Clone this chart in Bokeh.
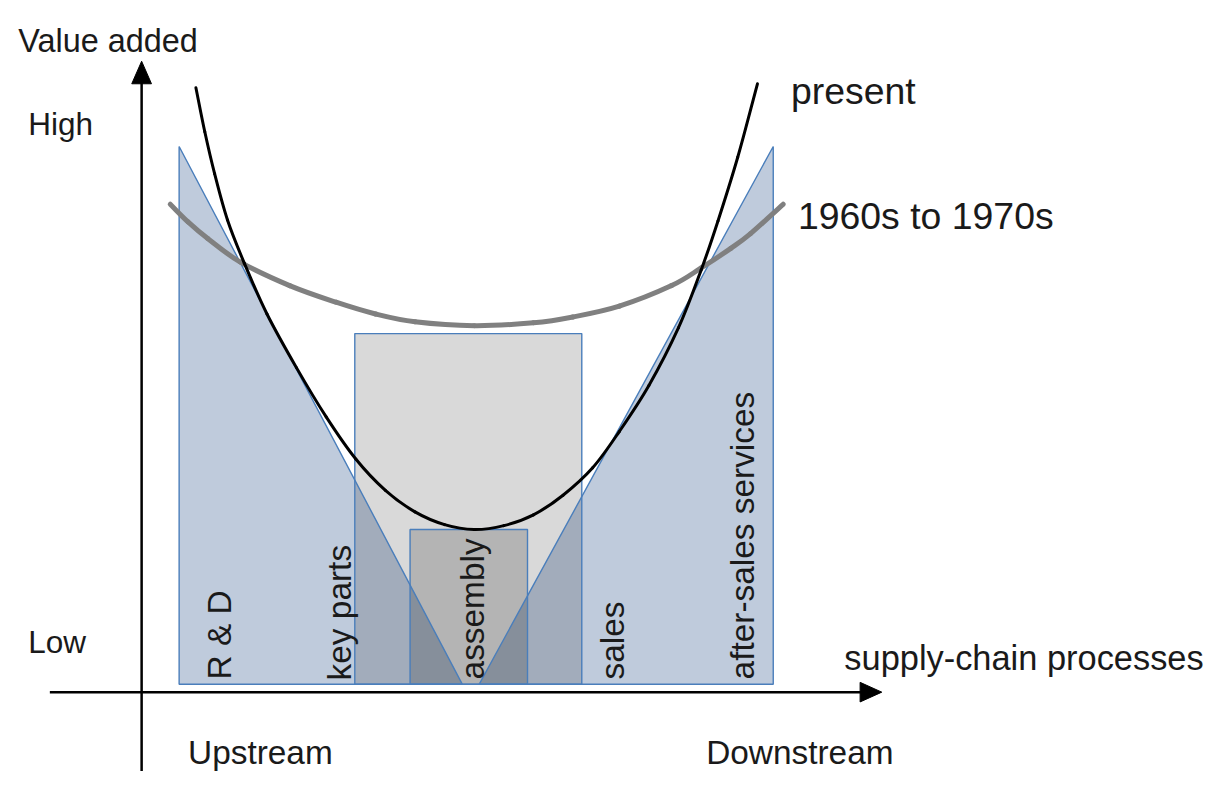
from bokeh.plotting import figure
from bokeh.models import Range1d
from bokeh.embed import file_html
from bokeh.resources import INLINE
from bokeh.core.properties import value
import numpy as np

W_REF, H_REF = 1222, 787   # reference frame (screen pixel units); y is flipped to "value" below
FIG_W, FIG_H = 1206, 771
FS = 0.983                 # font scale to fit the reference frame into the figure

# ---- data (screen pixel units) ----
present_x = [198, 207, 217, 230, 247, 270, 300, 330, 360, 390, 420, 450, 480,
             510, 540, 570, 600, 627, 657, 687, 710, 727, 747, 767]
present_y = [89, 134, 177, 224, 268, 320, 375, 425, 468, 500, 522, 535, 540,
             536, 525, 505, 477, 440, 393, 334, 275, 225, 160, 85]

sixties_x = [172, 190, 210, 243, 293, 340, 380, 420, 480, 540, 580, 627, 680, 710, 740, 760, 793]
sixties_y = [208, 226, 243, 267, 291, 308, 320, 328, 332, 329, 323, 312, 291, 273, 253, 238, 208]

rd_tri_x = [181, 181, 468]
rd_tri_y = [149, 698, 698]
after_tri_x = [783, 783, 485]
after_tri_y = [149, 698, 698]

# boxes: key parts..sales span, assembly span
box_left = [359, 415]
box_right = [589, 534]
box_top = [340, 540]
box_bottom = [698, 698]
box_shade = [0.15, 0.17]

stage_labels = ["R & D", "key parts", "assembly", "sales", "after-sales services"]
stage_x = [222, 343, 478, 620, 752]
stage_y = [693, 694, 693, 693, 693]

h_labels = ["Value added", "High", "Low", "present", "1960s to 1970s",
            "supply-chain processes", "Upstream", "Downstream"]
h_x = [18, 28, 28, 801, 808, 855, 190, 715]
h_y = [41, 126, 655, 92, 220, 671, 768, 768]
h_size = [33, 32, 32, 38, 38, 35, 34, 34]

yaxis_x = [143, 143]
yaxis_y = [787, 80]
yarrow_x = [143, 133, 153]
yarrow_y = [62, 85, 85]
xaxis_x = [50, 875]
xaxis_y = [706, 706]
xarrow_x = [893, 871, 871]
xarrow_y = [706, 696, 716]


def fy(v):
    return [H_REF - t for t in v]


def smooth_segments(xs, ys):
    """Catmull-Rom -> cubic Bezier segments through the read points."""
    x = np.array(xs, float)
    y = np.array(ys, float)
    px = np.concatenate([[2 * x[0] - x[1]], x, [2 * x[-1] - x[-2]]])
    py = np.concatenate([[2 * y[0] - y[1]], y, [2 * y[-1] - y[-2]]])
    n = len(x) - 1
    x0, y0 = px[1:n + 1], py[1:n + 1]
    x1, y1 = px[2:n + 2], py[2:n + 2]
    cx0 = x0 + (px[2:n + 2] - px[0:n]) / 6
    cy0 = y0 + (py[2:n + 2] - py[0:n]) / 6
    cx1 = x1 - (px[3:n + 3] - px[1:n + 1]) / 6
    cy1 = y1 - (py[3:n + 3] - py[1:n + 1]) / 6
    return dict(x0=x0, y0=y0, x1=x1, y1=y1, cx0=cx0, cy0=cy0, cx1=cx1, cy1=cy1)


p = figure(width=FIG_W, height=FIG_H, x_range=Range1d(0, W_REF), y_range=Range1d(0, H_REF),
           output_backend="svg", toolbar_location=None, min_border=0)
p.axis.visible = False
p.grid.visible = False
p.outline_line_color = None
p.background_fill_color = "white"

BLUE_FILL = "#bfcbdc"
BLUE_LINE = "#4a7ebb"

# triangles (fills)
p.patch(rd_tri_x, fy(rd_tri_y), fill_color=BLUE_FILL, line_color=None)
p.patch(after_tri_x, fy(after_tri_y), fill_color=BLUE_FILL, line_color=None)

# boxes (multiplied grey shading)
p.quad(left=box_left, right=box_right, top=fy(box_top), bottom=fy(box_bottom),
       fill_color="black", fill_alpha=box_shade, line_color=None)

# outlines
p.patch(rd_tri_x, fy(rd_tri_y), fill_color=None, line_color=BLUE_LINE, line_width=1.4)
p.patch(after_tri_x, fy(after_tri_y), fill_color=None, line_color=BLUE_LINE, line_width=1.4)
p.quad(left=box_left, right=box_right, top=fy(box_top), bottom=fy(box_bottom),
       fill_color=None, line_color=BLUE_LINE, line_width=1.4)

# curves
s60 = smooth_segments(sixties_x, fy(sixties_y))
p.bezier(**s60, line_color="#808080", line_width=5, line_cap="round")
spr = smooth_segments(present_x, fy(present_y))
p.bezier(**spr, line_color="black", line_width=3, line_cap="round")

# axes
p.line(yaxis_x, fy(yaxis_y), line_color="black", line_width=2.5)
p.patch(yarrow_x, fy(yarrow_y), fill_color="black", line_color="black")
p.line(xaxis_x, fy(xaxis_y), line_color="black", line_width=2.5)
p.patch(xarrow_x, fy(xarrow_y), fill_color="black", line_color="black")

# stage labels (vertical)
p.text(x=stage_x, y=fy(stage_y), text=stage_labels, angle=np.pi / 2,
       text_font=value("Liberation Sans"), text_font_size=f"{34 * FS:.1f}px",
       text_align="left", text_baseline="alphabetic", text_color="#1a1a1a")

# horizontal labels
for t, x, y, s in zip(h_labels, h_x, h_y, h_size):
    p.text(x=[x], y=[H_REF - y], text=[t], text_font=value("Liberation Sans"),
           text_font_size=f"{s * FS:.1f}px",
           text_align="left", text_baseline="alphabetic", text_color="#1a1a1a")

open("out.html", "w").write(file_html(p, INLINE))
